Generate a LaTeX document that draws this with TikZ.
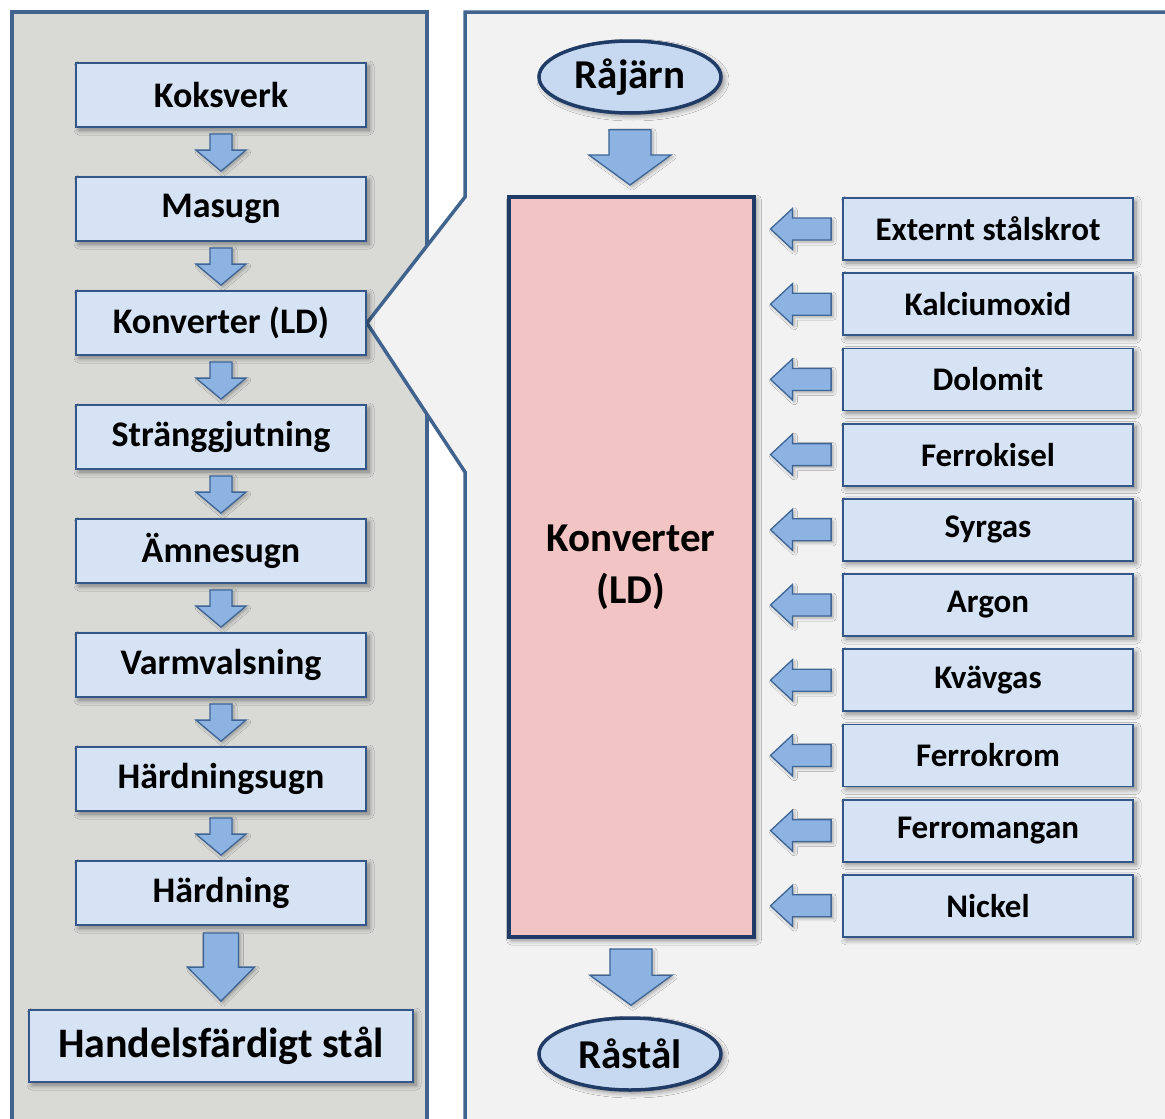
\documentclass[tikz,border=0pt]{standalone}
\usepackage{fontspec}
\setmainfont{Carlito}
\usetikzlibrary{calc,shapes.geometric,shadows.blur}
\pgfdeclarelayer{background}
\pgfsetlayers{background,main}
\definecolor{leftbg}{HTML}{D9D9D6}
\definecolor{rightbg}{HTML}{F2F2F2}
\definecolor{panelline}{HTML}{41648F}
\definecolor{boxfill}{HTML}{D6E3F4}
\definecolor{boxborder}{HTML}{34578A}
\definecolor{arrfill}{HTML}{8DB3E2}
\definecolor{arrborder}{HTML}{3D6596}
\definecolor{ellfill}{HTML}{C6D9F1}
\definecolor{navy}{HTML}{1F3B66}
\definecolor{convfill}{HTML}{F3C4C4}
% vertical block arrow: from, to, gap top, gap bottom, half shaft, half head, head length
\newcommand{\varrow}[7]{%
  \path[blockarr]
    ($(#1.south)+(-#5,#3)$) -- ($(#1.south)+(#5,#3)$)
    -- ($(#1.south |- #2.north)+(#5,-#4-#7)$) -- ($(#1.south |- #2.north)+(#6,-#4-#7)$)
    -- ($(#1.south |- #2.north)+(0,-#4)$)
    -- ($(#1.south |- #2.north)+(-#6,-#4-#7)$) -- ($(#1.south |- #2.north)+(-#5,-#4-#7)$) -- cycle;}
% horizontal block arrow pointing left: from box, to converter
\newcommand{\harrow}[2]{%
  \path[blockarr]
    ($(#1.west)+(-11,-11)$) -- ($(#1.west)+(-11,11)$)
    -- ($(#2.east |- #1.west)+(37,11)$) -- ($(#2.east |- #1.west)+(37,20.5)$)
    -- ($(#2.east |- #1.west)+(15,0)$)
    -- ($(#2.east |- #1.west)+(37,-20.5)$) -- ($(#2.east |- #1.west)+(37,-11)$) -- cycle;}
\begin{document}
\begin{tikzpicture}[x=1pt,y=-1pt,
  softshadow/.style={blur shadow={shadow xshift=3pt,shadow yshift=-3pt,shadow blur radius=5pt,shadow opacity=45,shadow blur steps=8}},
  lbox/.style={rectangle,draw=boxborder,fill=boxfill,line width=1.8pt,
    minimum width=290pt,minimum height=64pt,inner sep=0pt,softshadow,
    font=\fontsize{36}{43}\selectfont\bfseries},
  rbox/.style={rectangle,draw=boxborder,fill=boxfill,line width=1.8pt,
    minimum width=290pt,minimum height=62pt,inner sep=0pt,softshadow,
    font=\fontsize{33}{40}\selectfont\bfseries},
  ell/.style={ellipse,draw=navy,fill=ellfill,line width=3.5pt,
    minimum width=182pt,minimum height=72pt,inner sep=0pt,softshadow,
    font=\fontsize{41}{49}\selectfont\bfseries},
  convbox/.style={rectangle,draw=navy,fill=convfill,line width=4pt,
    minimum width=245pt,minimum height=740pt,inner sep=0pt,softshadow,align=center,
    font=\fontsize{41}{52}\selectfont\bfseries},
  blockarr/.style={fill=arrfill,draw=arrborder,line width=1.3pt,line join=miter,
    blur shadow={shadow xshift=2pt,shadow yshift=-2pt,shadow blur radius=3pt,shadow opacity=30,shadow blur steps=6}},
]
\useasboundingbox (0,0) rectangle (1165,1119);

% left column
\node[lbox] (k1) at (221,95) {Koksverk};
\node[lbox] (k2) at (221,209) {Masugn};
\node[lbox] (k3) at (221,323) {Konverter (LD)};
\node[lbox] (k4) at (221,437) {Stränggjutning};
\node[lbox] (k5) at (221,551) {Ämnesugn};
\node[lbox] (k6) at (221,665) {Varmvalsning};
\node[lbox] (k7) at (221,779) {Härdningsugn};
\node[lbox] (k8) at (221,893) {Härdning};
\node[lbox,minimum width=384pt,minimum height=72pt,font=\fontsize{42}{50}\selectfont\bfseries] (k9) at (221,1046) {Handelsfärdigt stål};

\varrow{k1}{k2}{6}{5}{11}{25}{21}
\varrow{k2}{k3}{6}{5}{11}{25}{21}
\varrow{k3}{k4}{6}{5}{11}{25}{21}
\varrow{k4}{k5}{6}{5}{11}{25}{21}
\varrow{k5}{k6}{6}{5}{11}{25}{21}
\varrow{k6}{k7}{6}{5}{11}{25}{21}
\varrow{k7}{k8}{6}{5}{11}{25}{21}
\varrow{k8}{k9}{7}{8}{17.5}{33.5}{34}

% right part
\node[ell] (raj) at (630,77) {Råjärn};
\node[convbox] (conv) at (631,567) {Konverter\\(LD)};
\node[ell] (ras) at (630,1054) {Råstål};

\varrow{raj}{conv}{15}{10}{21}{41}{30}
\varrow{conv}{ras}{10}{11}{21}{41}{30}

\node[rbox] (r1) at (988,229) {Externt stålskrot};
\node[rbox] (r2) at (988,304.2) {Kalciumoxid};
\node[rbox] (r3) at (988,379.4) {Dolomit};
\node[rbox] (r4) at (988,454.6) {Ferrokisel};
\node[rbox] (r5) at (988,529.8) {Syrgas};
\node[rbox] (r6) at (988,605) {Argon};
\node[rbox] (r7) at (988,680.2) {Kvävgas};
\node[rbox] (r8) at (988,755.4) {Ferrokrom};
\node[rbox] (r9) at (988,830.6) {Ferromangan};
\node[rbox] (r10) at (988,905.8) {Nickel};

\foreach \r in {r1,r2,r3,r4,r5,r6,r7,r8,r9,r10} {\harrow{\r}{conv}}

% panels
\begin{pgfonlayer}{background}
  \fill[white] (0,0) rectangle (1165,1119);
  \path[fill=leftbg,draw=panelline,line width=3.5pt,line join=miter]
    (12,1150) -- (12,12) -- (427,12) -- (427,1150);
  \path[fill=rightbg,draw=panelline,line width=3.5pt,line join=miter]
    (465,1150) -- (465,472) -- (k3.east) -- (465,197) -- (465,12) -- (1190,12) -- (1190,1150);
\end{pgfonlayer}
\end{tikzpicture}
\end{document}
